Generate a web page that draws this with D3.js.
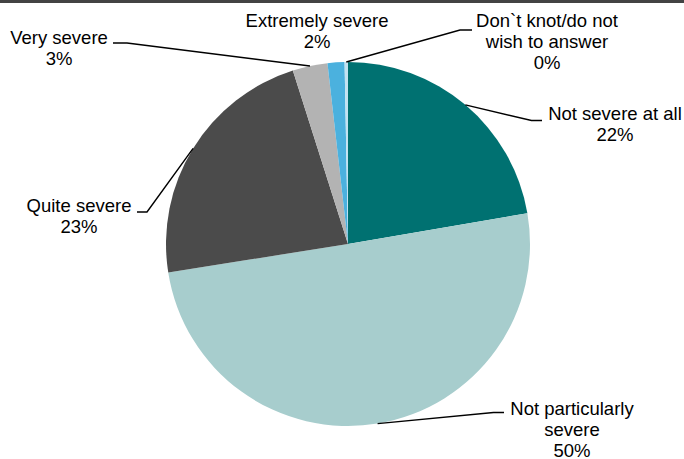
<!DOCTYPE html>
<html>
<head>
<meta charset="utf-8">
<script src="https://cdn.jsdelivr.net/npm/d3@7"></script>
<style>
  html, body { margin: 0; padding: 0; background: #ffffff; }
  svg { display: block; }
  text { font-family: "Liberation Sans", Arial, sans-serif; font-size: 18.5px; fill: #000; }
</style>
</head>
<body>
<svg id="chart" width="684" height="459"></svg>
<script>
// Survey answers: how severe is the problem
const categories = [
  "Not severe at all",
  "Not particularly severe",
  "Quite severe",
  "Very severe",
  "Extremely severe",
  "Don`t knot/do not wish to answer"
];
const shares = [22.3, 50.2, 22.6, 3.1, 1.5, 0.3];
// Label text split into lines as they are printed
const labelLines = [
  ["Not severe at all"],
  ["Not particularly", "severe"],
  ["Quite severe"],
  ["Very severe"],
  ["Extremely severe"],
  ["Don`t knot/do not", "wish to answer"]
];
const sliceColors = ["#007171", "#a7cdcd", "#4b4b4b", "#b3b3b3", "#4bb1de", "#c3e2f1"];

// Label placement: text centre, first baseline, and leader elbow/end (null = no leader)
const labelLayout = [
  { x: 615, y: 120, elbow: [531.5, 120.5], end: [542, 120.5] },
  { x: 572, y: 414.5, elbow: [493.5, 412.5], end: [504, 412.5] },
  { x: 79, y: 211.5, elbow: [147, 212], end: [137, 212] },
  { x: 59, y: 43.5, elbow: [127, 43], end: [113, 43] },
  { x: 317, y: 26.5, elbow: null, end: null },
  { x: 547, y: 26.5, elbow: [460, 30], end: [472, 30] }
];
const lineGap = 21;

const svg = d3.select("#chart");
const cx = 348, cy = 244, radius = 182;

// Top rule
svg.append("rect").attr("x", 0).attr("y", 0).attr("width", 684).attr("height", 3).attr("fill", "#434343");

const data = categories.map((c, i) => ({ name: c, value: shares[i], i }));
const pie = d3.pie().value(d => d.value).sort(null);
const arcs = pie(data);
const arc = d3.arc().innerRadius(0).outerRadius(radius);

const g = svg.append("g").attr("transform", `translate(${cx},${cy})`);
g.selectAll("path.slice")
  .data(arcs)
  .join("path")
  .attr("class", "slice")
  .attr("d", arc)
  .attr("fill", d => sliceColors[d.data.i]);

// Leader lines from the slice edge at its mid angle
const edgePoint = d => {
  const a = (d.startAngle + d.endAngle) / 2;
  return [cx + radius * Math.sin(a), cy - radius * Math.cos(a)];
};
svg.selectAll("polyline.leader")
  .data(arcs.filter(d => labelLayout[d.data.i].elbow))
  .join("polyline")
  .attr("class", "leader")
  .attr("fill", "none")
  .attr("stroke", "#000")
  .attr("stroke-width", 1.4)
  .attr("points", d => {
    const L = labelLayout[d.data.i];
    return [edgePoint(d), L.elbow, L.end].map(p => p.join(",")).join(" ");
  });

// Labels: name lines followed by the rounded percentage
arcs.forEach(d => {
  const L = labelLayout[d.data.i];
  const lines = labelLines[d.data.i].concat([Math.round(d.data.value) + "%"]);
  const t = svg.append("text").attr("text-anchor", "middle");
  lines.forEach((s, k) => {
    t.append("tspan").attr("x", L.x).attr("y", L.y + k * lineGap).text(s);
  });
});
</script>
</body>
</html>
